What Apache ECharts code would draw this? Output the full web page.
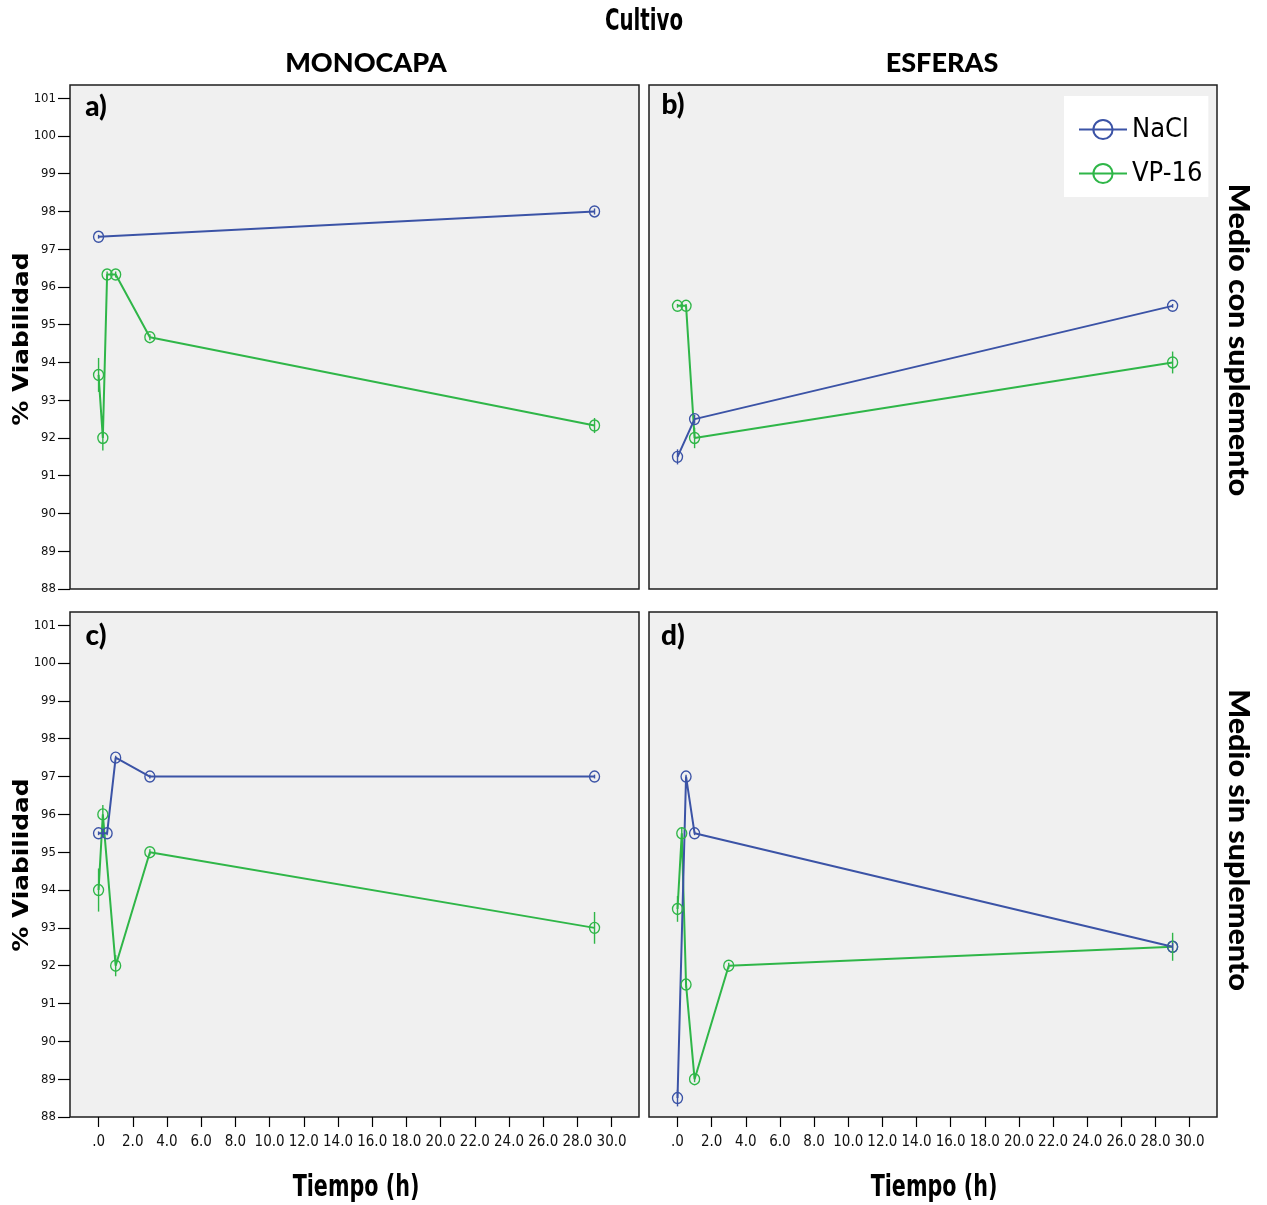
<!DOCTYPE html>
<html><head><meta charset="utf-8">
<script src="https://cdn.jsdelivr.net/npm/echarts@6/dist/echarts.min.js"></script>
<style>html,body{margin:0;padding:0;background:#fff}#c{width:1267px;height:1205px}</style>
</head><body><div id="c"></div>
<script>
// ---- data ----
const xTicks = [0, 2, 4, 6, 8, 10, 12, 14, 16, 18, 20, 22, 24, 26, 28, 30];
const yTicks = [88, 89, 90, 91, 92, 93, 94, 95, 96, 97, 98, 99, 100, 101];
const seriesNames = ['NaCl', 'VP-16'];
const panelLabels = ['a)', 'b)', 'c)', 'd)'];
const columnTitles = ['MONOCAPA', 'ESFERAS'];
const rowTitles = ['Medio con suplemento', 'Medio sin suplemento'];

// a) Monocapa, medio con suplemento
const timeA_NaCl = [0, 29];
const valA_NaCl = [97.33, 98.0];
const errA_NaCl = [0.05, 0.08];
const timeA_VP = [0, 0.25, 0.5, 1, 3, 29];
const valA_VP = [93.67, 92.0, 96.33, 96.33, 94.67, 92.33];
const errA_VP = [0.45, 0.33, 0.08, 0.08, 0.08, 0.2];

// b) Esferas, medio con suplemento
const timeB_NaCl = [0, 1, 29];
const valB_NaCl = [91.5, 92.5, 95.5];
const errB_NaCl = [0.2, 0.12, 0.05];
const timeB_VP = [0, 0.5, 1, 29];
const valB_VP = [95.5, 95.5, 92.0, 94.0];
const errB_VP = [0.05, 0.05, 0.27, 0.29];

// c) Monocapa, medio sin suplemento
const timeC_NaCl = [0, 0.5, 1, 3, 29];
const valC_NaCl = [95.5, 95.5, 97.5, 97.0, 97.0];
const errC_NaCl = [0.05, 0.05, 0.05, 0.05, 0.05];
const timeC_VP = [0, 0.25, 1, 3, 29];
const valC_VP = [94.0, 96.0, 92.0, 95.0, 93.0];
const errC_VP = [0.57, 0.25, 0.28, 0.08, 0.42];

// d) Esferas, medio sin suplemento
const timeD_NaCl = [0, 0.5, 1, 29];
const valD_NaCl = [88.5, 97.0, 95.5, 92.5];
const errD_NaCl = [0.22, 0.05, 0.05, 0.1];
const timeD_VP = [0, 0.25, 0.5, 1, 3, 29];
const valD_VP = [93.5, 95.5, 91.5, 89.0, 92.0, 92.5];
const errD_VP = [0.34, 0.15, 0.08, 0.08, 0.08, 0.37];

// ---- styling ----
const BLUE = '#3b53a6';
const GREEN = '#2fb648';
const NARROW = "'Liberation Sans Narrow', 'DejaVu Sans Condensed', 'Arial Narrow', sans-serif";
const CAL = "Lato, 'Open Sans', sans-serif";

const panels = [
  { nacl: [timeA_NaCl, valA_NaCl, errA_NaCl], vp: [timeA_VP, valA_VP, errA_VP] },
  { nacl: [timeB_NaCl, valB_NaCl, errB_NaCl], vp: [timeB_VP, valB_VP, errB_VP] },
  { nacl: [timeC_NaCl, valC_NaCl, errC_NaCl], vp: [timeC_VP, valC_VP, errC_VP] },
  { nacl: [timeD_NaCl, valD_NaCl, errD_NaCl], vp: [timeD_VP, valD_VP, errD_VP] }
];

const grids = [
  { left: 70, top: 85, width: 569, height: 504 },
  { left: 649, top: 85, width: 568, height: 504 },
  { left: 70, top: 612, width: 569, height: 505 },
  { left: 649, top: 612, width: 568, height: 505 }
].map(g => Object.assign(g, { show: true, backgroundColor: '#f0f0f0', borderColor: '#1e1e1e', borderWidth: 1.5 }));

const xAxes = [], yAxes = [], series = [];
grids.forEach((g, i) => {
  const bottom = i >= 2, left = (i % 2) === 0;
  xAxes.push({
    type: 'value', gridIndex: i, min: -1.67, max: 31.6, position: 'bottom',
    axisLine: { show: false, onZero: false }, splitLine: { show: false },
    axisTick: { show: bottom, customValues: xTicks, length: 10, lineStyle: { color: '#000', width: 1.2 } },
    axisLabel: { show: bottom, customValues: xTicks, margin: 18, fontFamily: NARROW, fontSize: 15, color: '#111',
      formatter: v => v === 0 ? '.0' : v.toFixed(1) }
  });
  yAxes.push({
    type: 'value', gridIndex: i, min: 88, max: 101.35, position: 'left',
    axisLine: { show: false, onZero: false }, splitLine: { show: false },
    axisTick: { show: left, customValues: yTicks, length: 12, lineStyle: { color: '#000', width: 1.2 } },
    axisLabel: { show: left, customValues: yTicks, margin: 14, fontFamily: NARROW, fontSize: 13, color: '#111' }
  });
  const addSeries = (name, arr, color) => {
    const [t, v, e] = arr;
    series.push({
      name: name, type: 'line', xAxisIndex: i, yAxisIndex: i,
      data: t.map((x, k) => [x, v[k]]),
      symbol: 'circle', symbolSize: [10, 11],
      lineStyle: { color: color, width: 2 },
      itemStyle: { color: 'transparent', borderColor: color, borderWidth: 1.4 },
      emphasis: { disabled: true }, animation: false, z: 3
    });
    series.push({
      name: name + ' err', type: 'custom', xAxisIndex: i, yAxisIndex: i,
      data: t.map((x, k) => [x, v[k], e[k]]),
      renderItem: (params, api) => {
        const x = api.value(0), y = api.value(1), d = api.value(2);
        const p1 = api.coord([x, y + d]), p2 = api.coord([x, y - d]);
        return { type: 'line', shape: { x1: p1[0], y1: p1[1], x2: p2[0], y2: p2[1] },
          style: { stroke: color, lineWidth: 1.4 } };
      },
      animation: false, silent: true, z: 4
    });
  };
  addSeries(seriesNames[1], panels[i].vp, GREEN);
  addSeries(seriesNames[0], panels[i].nacl, BLUE);
});

const graphic = [];
const txt = (text, x, y, font, rot, opts) => graphic.push(Object.assign({
  type: 'text', x: x, y: y, rotation: rot || 0, silent: true,
  style: { text: text, font: font, fill: '#000', textAlign: 'center', textVerticalAlign: 'middle' }
}, opts || {}));

txt('Cultivo', 644, 22, 'bold 22px ' + NARROW, 0, { scaleY: 1.35 });
txt(columnTitles[0], 366, 63, '900 27px ' + CAL);
txt(columnTitles[1], 942, 63, '900 27px ' + CAL);
txt(rowTitles[0], 1238, 340, '900 28px ' + CAL, -Math.PI / 2, { scaleX: 1.09 });
txt(rowTitles[1], 1238, 840, '900 28px ' + CAL, -Math.PI / 2, { scaleX: 1.09 });
txt('% Viabilidad', 23, 339, "bold 21px 'DejaVu Sans', Verdana, sans-serif", Math.PI / 2, { scaleX: 1.18 });
txt('% Viabilidad', 23, 865, "bold 21px 'DejaVu Sans', Verdana, sans-serif", Math.PI / 2, { scaleX: 1.18 });
txt('Tiempo (h)', 356, 1188, 'bold 23px ' + NARROW, 0, { scaleY: 1.3 });
txt('Tiempo (h)', 934, 1188, 'bold 23px ' + NARROW, 0, { scaleY: 1.3 });
const labPos = [[96, 107], [673, 105], [96, 636], [673, 636]];
panelLabels.forEach((l, i) => txt(l, labPos[i][0], labPos[i][1], '900 28px ' + CAL));

const chart = echarts.init(document.getElementById('c'), null, { renderer: 'canvas' });
chart.setOption({
  backgroundColor: '#fff',
  animation: false,
  grid: grids,
  xAxis: xAxes,
  yAxis: yAxes,
  series: series,
  legend: {
    data: seriesNames, orient: 'vertical', left: 1064, top: 96,
    backgroundColor: '#fff', padding: [20, 6, 10, 14],
    itemWidth: 48, itemHeight: 24, itemGap: 17,
    textStyle: { fontFamily: NARROW, fontSize: 27, color: '#000' },
    selectedMode: false
  },
  graphic: graphic
});
</script>
</body></html>
